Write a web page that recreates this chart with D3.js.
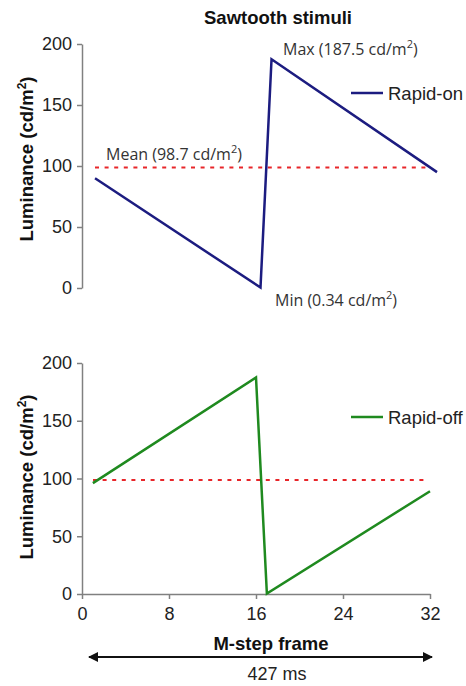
<!DOCTYPE html>
<head>
  <meta charset="utf-8">
  <script src="https://d3js.org/d3.v7.min.js"></script>
  <style>
    body { margin:0; background:white; overflow:hidden; }
    svg { background:white; }
    .axis text { font-family: "Liberation Sans", Arial, sans-serif; font-size:18px; fill:#222; }
    .axis path, .axis line { stroke:#808080; stroke-width:1.5; }
    .note { font-family: "Open Sans", sans-serif; font-size:16px; fill:#333; }
  </style>
</head>
<body>
<script>
// frames at the corners of each sawtooth (straight segments between them)
var frames = [1, 16, 17, 32];
var rapidOn = [90, 0.34, 187.5, 95];
var rapidOff = [96, 187.5, 0.34, 89];
var meanLum = 98.7;
var yTicks = [0, 50, 100, 150, 200];
var xTicks = [0, 8, 16, 24, 32];

var width = 466, height = 686;

var svg = d3.select("body").append("svg")
  .attr("width", width)
  .attr("height", height);

// two panels, top one has no x axis
var panels = [
  { values: rapidOn, name: "Rapid-on", color: "#1c1c80", xr: [84, 437], yr: [288, 44], labY: 159, legendY: 93, mean: [95, 430], showX: false },
  { values: rapidOff, name: "Rapid-off", color: "#1f8a1f", xr: [82, 430], yr: [594, 363], labY: 477, legendY: 417, mean: [93, 427], showX: true }
];

panels.forEach(function(p){
  var x = d3.scaleLinear().domain([0, 32]).range(p.xr);
  var y = d3.scaleLinear().domain([0, 200]).range(p.yr);
  var g = svg.append("g");

  g.append("g")
    .attr("class", "axis")
    .attr("transform", "translate(82,0)")
    .call(d3.axisLeft(y).tickValues(yTicks).tickSize(5).tickSizeOuter(0).tickPadding(5));

  if (p.showX) {
    g.append("g")
      .attr("class", "axis")
      .attr("transform", "translate(0," + p.yr[0] + ")")
      .call(d3.axisBottom(x).tickValues(xTicks).tickSize(5).tickSizeOuter(0).tickPadding(8));
  }

  // y label
  var lab = g.append("text")
    .attr("transform", "translate(33," + p.labY + ") rotate(-90)")
    .attr("text-anchor", "middle")
    .style("font-family", "'Liberation Sans', Arial, sans-serif")
    .style("font-weight", "bold")
    .style("font-size", "18.5px")
    .attr("fill", "#111");
  lab.append("tspan").text("Luminance (cd/m");
  lab.append("tspan").attr("dy", -7).style("font-size", "12px").text("2");
  lab.append("tspan").attr("dy", 7).text(")");

  // mean line
  g.append("line")
    .attr("x1", p.mean[0]).attr("x2", p.mean[1])
    .attr("y1", y(meanLum)).attr("y2", y(meanLum))
    .attr("stroke", "#e8262a")
    .attr("stroke-width", 2)
    .attr("stroke-dasharray", "4,5.6");

  var line = d3.line()
    .x(function(d, i){ return x(frames[i]); })
    .y(function(d){ return y(d); });

  g.append("path")
    .attr("d", line(p.values))
    .attr("fill", "none")
    .attr("stroke", p.color)
    .attr("stroke-width", 2.5);

  // legend
  g.append("line")
    .attr("x1", 351).attr("x2", 383)
    .attr("y1", p.legendY).attr("y2", p.legendY)
    .attr("stroke", p.color).attr("stroke-width", 2.5);
  g.append("text")
    .attr("x", 388).attr("y", p.legendY + 6.5)
    .style("font-family", "'Liberation Sans', Arial, sans-serif")
    .style("font-size", "18.5px")
    .attr("fill", "#222")
    .text(p.name);
});

// annotations on the top panel
function note(txt, xx, yy){
  var t = svg.append("text").attr("class", "note").attr("x", xx).attr("y", yy);
  t.append("tspan").text(txt);
  t.append("tspan").attr("dy", -7).style("font-size", "11px").text("2");
  t.append("tspan").attr("dy", 7).text(")");
}
note("Max (187.5 cd/m", 283, 55);
note("Mean (98.7 cd/m", 106, 160);
note("Min (0.34 cd/m", 275, 306);

// title
svg.append("text")
  .attr("x", 278).attr("y", 24)
  .attr("text-anchor", "middle")
  .style("font-family", "'Liberation Sans', Arial, sans-serif")
  .style("font-weight", "bold")
  .style("font-size", "18.5px")
  .attr("fill", "#111")
  .text("Sawtooth stimuli");

// x label
svg.append("text")
  .attr("x", 271).attr("y", 650)
  .attr("text-anchor", "middle")
  .style("font-family", "'Liberation Sans', Arial, sans-serif")
  .style("font-weight", "bold")
  .style("font-size", "18.5px")
  .attr("fill", "#111")
  .text("M-step frame");

// double arrow
var defs = svg.append("defs");
defs.append("marker")
  .attr("id", "ah")
  .attr("viewBox", "0 0 10 10")
  .attr("refX", 9).attr("refY", 5)
  .attr("markerWidth", 5).attr("markerHeight", 5)
  .attr("orient", "auto-start-reverse")
  .append("path").attr("d", "M0,0 L10,5 L0,10 Z").attr("fill", "#111");

svg.append("line")
  .attr("x1", 89).attr("x2", 432)
  .attr("y1", 657).attr("y2", 657)
  .attr("stroke", "#111").attr("stroke-width", 2)
  .attr("marker-start", "url(#ah)")
  .attr("marker-end", "url(#ah)");

svg.append("text")
  .attr("x", 277).attr("y", 680)
  .attr("text-anchor", "middle")
  .style("font-family", "'Liberation Sans', Arial, sans-serif")
  .style("font-size", "18px")
  .attr("fill", "#222")
  .text("427 ms");
</script>
</body>
